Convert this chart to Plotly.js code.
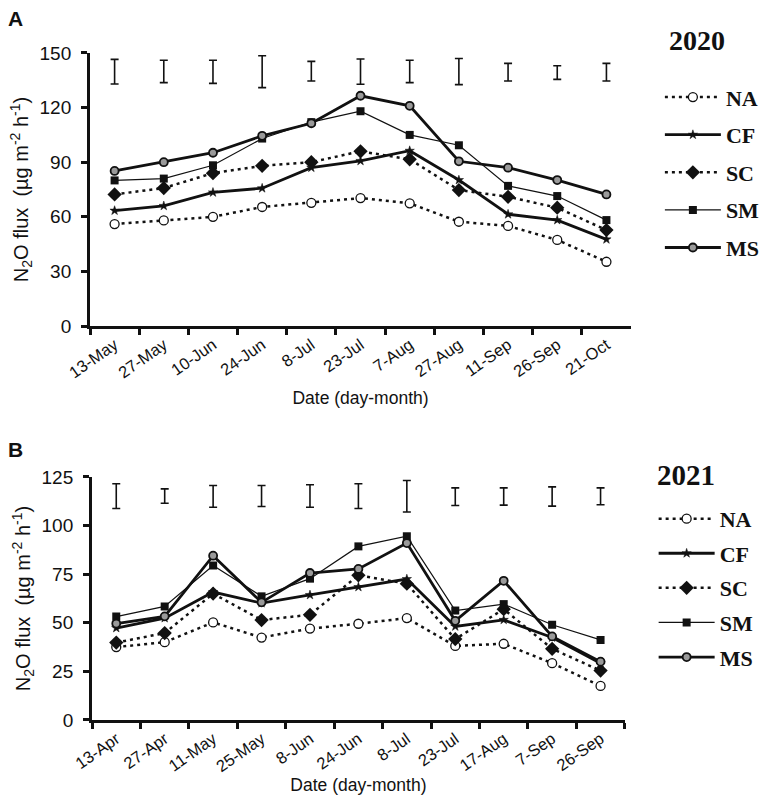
<!DOCTYPE html>
<html>
<head>
<meta charset="utf-8">
<script src="https://cdn.plot.ly/plotly-3.0.1.min.js"></script>
<style>
  html, body { margin: 0; padding: 0; background: #fff; }
  #chart { width: 780px; height: 803px; }
</style>
</head>
<body>
<div id="chart"></div>
<script>
/* N2O flux by treatment, 2020 (A) and 2021 (B) */

// ---- 2020 ----
var dates2020 = ["13-May", "27-May", "10-Jun", "24-Jun", "8-Jul", "23-Jul", "7-Aug", "27-Aug", "11-Sep", "26-Sep", "21-Oct"];
var na2020 = [56, 58, 60, 65.4, 67.7, 70.3, 67.4, 57.3, 55, 47.3, 35.3];
var cf2020 = [63.4, 66, 73.4, 75.7, 87, 90.7, 96.3, 80.2, 61.4, 58.2, 47.6];
var sc2020 = [72.3, 75.8, 84, 88, 90, 96, 91.6, 74.7, 71, 65, 52.7];
var sm2020 = [80, 81, 88.3, 103, 112, 118, 105, 99.3, 77, 71.4, 58.2];
var ms2020 = [85.2, 90, 95.2, 104.5, 111.4, 126.5, 121, 90.5, 87, 80.2, 72.3];
var lsdLow2020 = [133, 133.7, 133.3, 131, 134.6, 132.8, 133.7, 132.6, 134.6, 135.5, 134.6];
var lsdHigh2020 = [146.5, 146, 146, 148.5, 145.4, 146.7, 146, 147, 144.3, 143, 144.3];

// ---- 2021 ----
var dates2021 = ["13-Apr", "27-Apr", "11-May", "25-May", "8-Jun", "24-Jun", "8-Jul", "23-Jul", "17-Aug", "7-Sep", "26-Sep"];
var na2021 = [37.5, 40, 50.2, 42.4, 47, 49.5, 52.4, 38.1, 39.2, 29.2, 17.5];
var cf2021 = [47.3, 52.4, 65.8, 60.1, 64.3, 68.4, 72.5, 48.1, 51.5, 42.4, 29.2];
var sc2021 = [39.8, 44.7, 65, 51.4, 54.1, 74.4, 70.1, 41.6, 57, 36.6, 25.4];
var sm2021 = [53.2, 58.4, 79.5, 63.6, 72.7, 89.3, 94.5, 56.3, 59.6, 49, 41.2];
var ms2021 = [49.6, 53.3, 84.5, 60.5, 75.6, 77.7, 91, 51, 71.6, 43, 30];
var lsdLow2021 = [108.8, 111.5, 109.4, 109.8, 109.4, 108.8, 107, 110.3, 110.5, 110, 110.7];
var lsdHigh2021 = [121.5, 118.9, 120.6, 120.6, 121, 121.5, 123.2, 119.4, 119.4, 119.9, 119.4];

var treatments = ["NA", "CF", "SC", "SM", "MS"];

var SANS = "'Liberation Sans', Arial, sans-serif";
var SERIF = "'Liberation Serif', 'Times New Roman', serif";
var INK = "#111";

// line + marker look for each treatment
var STYLE = {
  NA: { line: { color: INK, width: 2.5, dash: "3px,4px" }, marker: { symbol: "circle", size: 9, color: "#fff", line: { color: INK, width: 1.3 } } },
  CF: { line: { color: INK, width: 2.8 }, marker: { symbol: "star", size: 7, color: INK, line: { color: INK, width: 0.5 } } },
  SC: { line: { color: INK, width: 2.5, dash: "3px,4px" }, marker: { symbol: "diamond", size: 11, color: INK, line: { width: 0 } } },
  SM: { line: { color: INK, width: 1.2 }, marker: { symbol: "square", size: 8, color: INK, line: { width: 0 } } },
  MS: { line: { color: INK, width: 2.8 }, marker: { symbol: "circle", size: 8, color: "#9a9a9a", line: { color: INK, width: 1.8 } } }
};

function seriesTraces(dates, values, xa, ya, legendId) {
  return treatments.map(function (name, i) {
    var st = STYLE[name];
    return {
      type: "scatter", mode: "lines+markers", name: name,
      x: dates, y: values[i], xaxis: xa, yaxis: ya,
      line: st.line, marker: st.marker,
      legend: legendId, legendgroup: legendId + name,
      hoverinfo: "skip"
    };
  });
}

function lsdTrace(dates, low, high, xa, ya) {
  var mid = low.map(function (v, i) { return (v + high[i]) / 2; });
  var half = low.map(function (v, i) { return (high[i] - v) / 2; });
  return {
    type: "scatter", mode: "markers", x: dates, y: mid, xaxis: xa, yaxis: ya,
    marker: { size: 1, opacity: 0 }, showlegend: false, hoverinfo: "skip",
    error_y: { type: "data", array: half, visible: true, color: INK, thickness: 1.6, width: 4 }
  };
}

var traces = []
  .concat(seriesTraces(dates2020, [na2020, cf2020, sc2020, sm2020, ms2020], "x", "y", "legend"))
  .concat([lsdTrace(dates2020, lsdLow2020, lsdHigh2020, "x", "y")])
  .concat(seriesTraces(dates2021, [na2021, cf2021, sc2021, sm2021, ms2021], "x2", "y2", "legend2"))
  .concat([lsdTrace(dates2021, lsdLow2021, lsdHigh2021, "x2", "y2")]);

function xAxis(domain, anchor, standoff) {
  return {
    domain: domain, anchor: anchor, type: "category", range: [-0.5, 10.5],
    tickson: "boundaries", ticks: "outside", ticklen: 6, tickwidth: 3, tickcolor: INK,
    showline: true, linewidth: 3, linecolor: INK, showgrid: false, zeroline: false,
    tickangle: -35, tickfont: { family: SANS, size: 16.5, color: INK },
    title: { text: "Date (day-month)", font: { family: SANS, size: 17.5, color: INK }, standoff: standoff },
    fixedrange: true
  };
}

var yTitle = "N<sub>2</sub>O flux\u00a0\u00a0(µg m<sup>-2</sup> h<sup>-1</sup>)";
function yAxis(domain, anchor, top, step) {
  return {
    domain: domain, anchor: anchor, range: [0, top], dtick: step,
    ticks: "outside", ticklen: 6, tickwidth: 3, tickcolor: INK, ticklabelstandoff: 6,
    showline: true, linewidth: 3, linecolor: INK, showgrid: false, zeroline: false,
    tickfont: { family: SANS, size: 19, color: INK },
    title: { text: yTitle, font: { family: SANS, size: 20, color: INK }, standoff: 6 },
    fixedrange: true
  };
}

function legendBox(y) {
  return {
    x: 0.846, xanchor: "left", y: y, yanchor: "top",
    bgcolor: "rgba(0,0,0,0)", borderwidth: 0, tracegroupgap: 6, itemwidth: 56,
    font: { family: SERIF, size: 22, color: INK, weight: "bold" }
  };
}

var legA = legendBox(0.905);
var legB = legendBox(0.38);
legB.x = 0.838;
legB.tracegroupgap = 3;

var layout = {
  width: 780, height: 803,
  margin: { l: 0, r: 0, t: 0, b: 0 },
  paper_bgcolor: "#fff", plot_bgcolor: "#fff",
  showlegend: true,
  font: { family: SANS, color: INK },
  xaxis: xAxis([0.1154, 0.809], "y", 12),
  yaxis: yAxis([0.594, 0.934], "x", 150, 30),
  xaxis2: xAxis([0.118, 0.801], "y2", 5),
  yaxis2: yAxis([0.1034, 0.406], "x2", 125, 25),
  legend: legA,
  legend2: legB,
  annotations: [
    { xref: "paper", yref: "paper", x: 0.008, y: 0.977, xanchor: "left", yanchor: "middle", showarrow: false,
      text: "<b>A</b>", font: { family: SANS, size: 21, color: INK } },
    { xref: "paper", yref: "paper", x: 0.008, y: 0.44, xanchor: "left", yanchor: "middle", showarrow: false,
      text: "<b>B</b>", font: { family: SANS, size: 21, color: INK } },
    { xref: "paper", yref: "paper", x: 0.855, y: 0.95, xanchor: "left", yanchor: "middle", showarrow: false,
      text: "<b>2020</b>", font: { family: SERIF, size: 28, color: INK } },
    { xref: "paper", yref: "paper", x: 0.84, y: 0.408, xanchor: "left", yanchor: "middle", showarrow: false,
      text: "<b>2021</b>", font: { family: SERIF, size: 29, color: INK } }
  ]
};

Plotly.newPlot("chart", traces, layout, { displayModeBar: false, staticPlot: true });
</script>
</body>
</html>
